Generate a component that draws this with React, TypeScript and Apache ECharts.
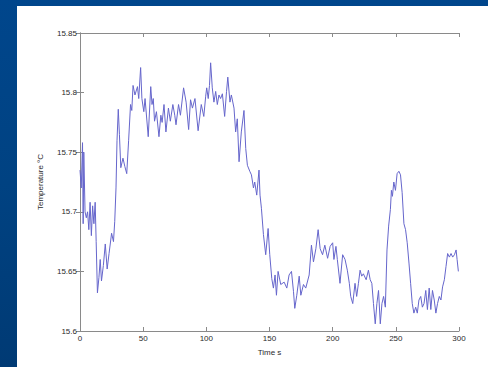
import React, { useEffect, useRef } from "react";
import * as echarts from "echarts";

const times: number[] = [
  0, 1, 2, 2.5, 3, 4, 5, 6, 7, 8, 9, 10, 11, 12, 12.8, 13.8, 15, 16, 17, 18.5,
  20, 21.5, 23, 25, 26.5, 27.5, 28.5, 29.3, 30.3, 31.2, 32.3, 34, 35.5, 37, 38.5, 40, 41, 42, 43.5, 45.5,
  46.5, 48, 49, 50.5, 51.5, 54, 56, 57, 58, 59, 60.5, 62.5, 64, 65, 66.5, 68, 70, 71.5, 73.5, 75,
  76, 78, 79.5, 82, 84, 86, 87.5, 89, 91, 93.5, 96, 98, 99.5, 100.3, 101.5, 102.5, 103.4, 104.7, 106, 107.4,
  108.7, 110, 111.3, 112.7, 114.5, 116, 117, 118.7, 119.8, 121.9, 123.2, 124.5, 125.9, 127.7, 129.8, 131.2, 132.5, 134.4, 135.7, 137.3,
  138.3, 139.9, 141.7, 142.5, 143.6, 145.2, 147, 148.9, 150.2, 151.8, 153.1, 154.4, 155.5, 156.8, 158.9, 161.6, 163.7, 165.5, 167.4, 169,
  170, 171.6, 173.5, 174.8, 176.9, 178.7, 181.4, 183.2, 184.8, 186.7, 188.5, 190.1, 192, 193.8, 196, 198, 200, 201, 202.6, 203.7,
  205.8, 207.9, 209.8, 211.6, 213.2, 214.3, 215.9, 217.7, 219, 220.4, 221.7, 223, 224.3, 226.5, 228.3, 229.7, 231, 232.3, 233.7, 235,
  236.3, 237.7, 239, 240.3, 241.7, 243, 244.3, 245.7, 246.5, 247.3, 248.4, 249.7, 251, 252.4, 253.7, 255, 256.4, 257.7, 259, 260.4,
  261.7, 263, 264.3, 265.7, 267, 268.3, 269.7, 271, 272.3, 273.7, 275, 276.4, 277.7, 279, 280.4, 281.7, 283, 284.4, 285.7, 287,
  288.4, 289.7, 291, 292.4, 293.7, 295, 296.4, 297.7, 298.5, 299.5,
];

const temperatures: number[] = [
  15.735, 15.72, 15.758, 15.69, 15.75, 15.7, 15.695, 15.7, 15.685, 15.708, 15.68, 15.705, 15.69, 15.708, 15.675, 15.632, 15.645, 15.66, 15.642, 15.655,
  15.673, 15.652, 15.665, 15.682, 15.675, 15.692, 15.72, 15.76, 15.786, 15.765, 15.737, 15.745, 15.738, 15.732, 15.76, 15.79, 15.785, 15.806, 15.798, 15.805,
  15.795, 15.821, 15.795, 15.784, 15.795, 15.763, 15.805, 15.79, 15.795, 15.776, 15.784, 15.763, 15.781, 15.775, 15.79, 15.767, 15.787, 15.776, 15.79, 15.781,
  15.773, 15.79, 15.781, 15.804, 15.792, 15.769, 15.794, 15.787, 15.795, 15.768, 15.79, 15.78, 15.797, 15.804, 15.795, 15.806, 15.825, 15.804, 15.792, 15.801,
  15.79, 15.798, 15.795, 15.799, 15.78, 15.801, 15.813, 15.792, 15.798, 15.787, 15.767, 15.778, 15.742, 15.767, 15.785, 15.753, 15.739, 15.734, 15.731, 15.72,
  15.725, 15.714, 15.735, 15.714, 15.703, 15.681, 15.664, 15.686, 15.664, 15.644, 15.636, 15.647, 15.63, 15.65, 15.639, 15.641, 15.636, 15.647, 15.65, 15.633,
  15.619, 15.63, 15.646, 15.63, 15.639, 15.636, 15.647, 15.672, 15.658, 15.669, 15.685, 15.669, 15.664, 15.672, 15.661, 15.671, 15.674, 15.66, 15.671, 15.66,
  15.64, 15.664, 15.66, 15.651, 15.64, 15.629, 15.623, 15.64, 15.629, 15.64, 15.651, 15.646, 15.648, 15.643, 15.651, 15.643, 15.64, 15.623, 15.606, 15.623,
  15.634, 15.606, 15.623, 15.629, 15.62, 15.668, 15.688, 15.702, 15.718, 15.713, 15.725, 15.718, 15.732, 15.734, 15.731, 15.716, 15.69, 15.685, 15.674, 15.657,
  15.64, 15.623, 15.615, 15.62, 15.615, 15.626, 15.629, 15.62, 15.623, 15.634, 15.618, 15.636, 15.618, 15.634, 15.626, 15.615, 15.623, 15.629, 15.626, 15.637,
  15.643, 15.654, 15.665, 15.662, 15.665, 15.662, 15.664, 15.668, 15.66, 15.65,
];

const xTicks = { min: 0, max: 300, interval: 50 };
const yTicks = { min: 15.6, max: 15.85, interval: 0.05 };

const xLabel = "Time s";
const yLabel = "Temperature °C";

export default function App() {
  const ref = useRef<HTMLDivElement>(null);

  useEffect(() => {
    document.body.style.margin = "0";
    if (!ref.current) return;
    const chart = echarts.init(ref.current, null, { renderer: "svg", width: 488, height: 367 });
    const axisColor = "#8a8a8a";
    const labelStyle = { color: "#2a2a2a", fontSize: 8, fontFamily: "Liberation Sans, Arial, sans-serif" };
    const fmtY = (v: number) => String(parseFloat(v.toFixed(2)));
    const common = {
      axisLine: { show: true, lineStyle: { color: axisColor, width: 1 } },
      axisTick: { show: true, inside: true, length: 4, lineStyle: { color: axisColor } },
      splitLine: { show: false },
    };
    chart.setOption({
      animation: false,
      backgroundColor: "transparent",
      graphic: [
        { type: "rect", shape: { x: 17, y: 6, width: 471, height: 361 }, style: { fill: "#ffffff" }, z: -10 },
      ],
      grid: { left: 80, top: 33, right: 29, bottom: 36, containLabel: false },
      xAxis: [
        {
          type: "value",
          ...xTicks,
          position: "bottom",
          ...common,
          axisLabel: { ...labelStyle, margin: 3 },
          name: xLabel,
          nameLocation: "middle",
          nameGap: 17,
          nameTextStyle: { ...labelStyle, fontSize: 8 },
        },
        {
          type: "value",
          ...xTicks,
          position: "top",
          ...common,
          axisLabel: { show: false },
        },
      ],
      yAxis: [
        {
          type: "value",
          ...yTicks,
          position: "left",
          ...common,
          axisLabel: { ...labelStyle, margin: 3, formatter: fmtY },
          name: yLabel,
          nameLocation: "middle",
          nameGap: 36,
          nameTextStyle: { ...labelStyle, fontSize: 8 },
        },
        {
          type: "value",
          ...yTicks,
          position: "right",
          ...common,
          axisLabel: { show: false },
        },
      ],
      series: [
        {
          type: "line",
          data: times.map((t, i) => [t, temperatures[i]]),
          showSymbol: false,
          symbol: "none",
          smooth: false,
          lineStyle: { color: "#6666cc", width: 1 },
          xAxisIndex: 0,
          yAxisIndex: 0,
        },
      ],
    });
    return () => chart.dispose();
  }, []);

  return (
    <div
      style={{
        width: 488,
        height: 367,
        background: "linear-gradient(180deg, #00468c 0%, #004282 50%, #003a74 100%)",
        position: "relative",
      }}
    >
      <div ref={ref} style={{ position: "absolute", left: 0, top: 0, width: 488, height: 367 }} />
    </div>
  );
}
